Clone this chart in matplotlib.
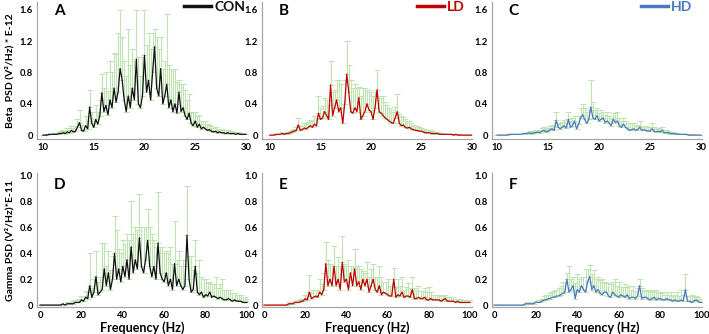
import numpy as np
import matplotlib
matplotlib.use('Agg')
import matplotlib.pyplot as plt

plt.rcParams['font.family'] = ['Lato', 'DejaVu Sans']

# frequency bins
beta_freq = np.linspace(10, 30, 101)
gamma_freq = np.linspace(0, 100, 101)

# Beta band, mean PSD (E-12) and upper error
con_beta = [0.00, 0.00, 0.00, 0.01, 0.01, 0.01, 0.01, 0.01, 0.02, 0.02,
            0.03, 0.02, 0.04, 0.03, 0.06, 0.04, 0.05, 0.10, 0.16, 0.06,
            0.05, 0.12, 0.08, 0.36, 0.15, 0.10, 0.20, 0.14, 0.25, 0.54,
            0.30, 0.38, 0.26, 0.45, 0.35, 0.60, 0.42, 0.55, 0.85, 0.70,
            0.45, 0.30, 0.50, 0.35, 0.60, 0.45, 0.97, 0.40, 0.35, 0.50,
            1.02, 0.55, 0.70, 0.45, 0.80, 1.13, 0.60, 0.50, 0.85, 0.40,
            0.50, 0.65, 0.35, 0.45, 0.30, 0.40, 0.28, 0.55, 0.30, 0.35,
            0.25, 0.20, 0.28, 0.15, 0.12, 0.18, 0.10, 0.14, 0.08, 0.10,
            0.08, 0.06, 0.07, 0.05, 0.04, 0.05, 0.03, 0.04, 0.03, 0.03,
            0.02, 0.03, 0.02, 0.02, 0.02, 0.01, 0.02, 0.01, 0.01, 0.01, 0.01]
con_beta_err = [0.00, 0.00, 0.01, 0.01, 0.01, 0.01, 0.02, 0.02, 0.02, 0.03,
                0.04, 0.03, 0.05, 0.04, 0.06, 0.05, 0.06, 0.10, 0.16, 0.07,
                0.06, 0.12, 0.10, 0.22, 0.14, 0.10, 0.18, 0.16, 0.20, 0.24,
                0.30, 0.42, 0.30, 0.50, 0.45, 0.45, 0.62, 0.75, 0.75, 0.55,
                0.50, 0.45, 0.85, 0.55, 0.50, 0.50, 0.63, 0.60, 0.40, 0.50,
                0.58, 0.60, 0.60, 0.65, 0.50, 0.22, 0.65, 0.60, 0.40, 0.45,
                0.45, 0.90, 0.55, 0.40, 0.55, 0.45, 0.40, 0.15, 0.35, 0.30,
                0.33, 0.25, 0.25, 0.15, 0.18, 0.12, 0.14, 0.12, 0.10, 0.08,
                0.10, 0.08, 0.06, 0.06, 0.05, 0.05, 0.04, 0.04, 0.05, 0.04,
                0.04, 0.03, 0.03, 0.03, 0.02, 0.02, 0.02, 0.02, 0.01, 0.01, 0.01]

ld_beta = [0.00, 0.00, 0.00, 0.01, 0.01, 0.01, 0.02, 0.01, 0.02, 0.02,
           0.03, 0.04, 0.05, 0.06, 0.13, 0.06, 0.07, 0.09, 0.08, 0.10,
           0.12, 0.10, 0.14, 0.12, 0.28, 0.20, 0.22, 0.30, 0.25, 0.20,
           0.64, 0.25, 0.35, 0.45, 0.30, 0.35, 0.15, 0.40, 0.78, 0.55,
           0.30, 0.28, 0.35, 0.30, 0.48, 0.20, 0.25, 0.30, 0.40, 0.32,
           0.30, 0.20, 0.35, 0.58, 0.30, 0.28, 0.25, 0.22, 0.20, 0.18,
           0.16, 0.15, 0.22, 0.30, 0.15, 0.12, 0.13, 0.10, 0.09, 0.10,
           0.08, 0.07, 0.06, 0.06, 0.05, 0.05, 0.04, 0.03, 0.03, 0.03,
           0.02, 0.02, 0.02, 0.02, 0.01, 0.01, 0.01, 0.01, 0.01, 0.01,
           0.01, 0.00, 0.01, 0.00, 0.00, 0.00, 0.00, 0.00, 0.00, 0.00, 0.00]
ld_beta_err = [0.00, 0.00, 0.00, 0.01, 0.01, 0.01, 0.02, 0.02, 0.02, 0.02,
               0.02, 0.03, 0.03, 0.04, 0.09, 0.05, 0.05, 0.06, 0.06, 0.07,
               0.07, 0.08, 0.10, 0.10, 0.22, 0.15, 0.15, 0.18, 0.20, 0.18,
               0.31, 0.30, 0.22, 0.25, 0.40, 0.30, 0.25, 0.30, 0.42, 0.35,
               0.40, 0.32, 0.30, 0.30, 0.14, 0.30, 0.35, 0.30, 0.18, 0.25,
               0.25, 0.30, 0.20, 0.25, 0.20, 0.20, 0.25, 0.20, 0.18, 0.16,
               0.16, 0.14, 0.14, 0.22, 0.12, 0.12, 0.10, 0.10, 0.09, 0.08,
               0.08, 0.06, 0.06, 0.05, 0.05, 0.04, 0.04, 0.04, 0.03, 0.03,
               0.03, 0.02, 0.02, 0.02, 0.02, 0.02, 0.01, 0.01, 0.01, 0.01,
               0.01, 0.01, 0.01, 0.01, 0.00, 0.00, 0.00, 0.00, 0.00, 0.00, 0.00]

hd_beta = [0.00, 0.00, 0.00, 0.00, 0.00, 0.00, 0.01, 0.01, 0.01, 0.01,
           0.01, 0.01, 0.01, 0.02, 0.02, 0.02, 0.03, 0.02, 0.03, 0.03,
           0.04, 0.03, 0.05, 0.06, 0.04, 0.05, 0.07, 0.08, 0.06, 0.19,
           0.10, 0.08, 0.10, 0.12, 0.09, 0.20, 0.10, 0.12, 0.18, 0.08,
           0.14, 0.22, 0.26, 0.20, 0.15, 0.20, 0.36, 0.22, 0.20, 0.25,
           0.18, 0.20, 0.22, 0.16, 0.18, 0.15, 0.12, 0.20, 0.16, 0.18,
           0.12, 0.10, 0.14, 0.10, 0.08, 0.06, 0.07, 0.08, 0.06, 0.07,
           0.10, 0.06, 0.07, 0.06, 0.05, 0.05, 0.08, 0.05, 0.04, 0.05,
           0.04, 0.06, 0.03, 0.03, 0.03, 0.02, 0.02, 0.02, 0.01, 0.01,
           0.01, 0.01, 0.01, 0.01, 0.00, 0.00, 0.00, 0.00, 0.00, 0.00, 0.00]
hd_beta_err = [0.00, 0.00, 0.00, 0.00, 0.00, 0.00, 0.00, 0.00, 0.00, 0.01,
               0.01, 0.01, 0.01, 0.01, 0.01, 0.02, 0.02, 0.02, 0.02, 0.03,
               0.03, 0.03, 0.04, 0.04, 0.04, 0.04, 0.05, 0.05, 0.05, 0.11,
               0.06, 0.06, 0.07, 0.07, 0.07, 0.10, 0.08, 0.10, 0.07, 0.08,
               0.10, 0.13, 0.14, 0.15, 0.15, 0.12, 0.34, 0.20, 0.12, 0.10,
               0.10, 0.12, 0.08, 0.10, 0.12, 0.10, 0.10, 0.08, 0.12, 0.12,
               0.10, 0.08, 0.08, 0.08, 0.07, 0.10, 0.08, 0.07, 0.06, 0.06,
               0.08, 0.06, 0.05, 0.05, 0.05, 0.05, 0.07, 0.05, 0.04, 0.04,
               0.04, 0.04, 0.03, 0.03, 0.02, 0.02, 0.02, 0.02, 0.02, 0.01,
               0.01, 0.01, 0.01, 0.01, 0.01, 0.01, 0.00, 0.00, 0.00, 0.00, 0.00]

# Gamma band, mean PSD (E-11) and upper error
con_gamma = [0.00, 0.00, 0.00, 0.00, 0.00, 0.00, 0.00, 0.00, 0.00, 0.00,
             0.00, 0.01, 0.00, 0.01, 0.01, 0.01, 0.01, 0.02, 0.02, 0.02,
             0.04, 0.03, 0.06, 0.05, 0.15, 0.06, 0.10, 0.22, 0.08, 0.10,
             0.12, 0.28, 0.15, 0.25, 0.12, 0.20, 0.40, 0.20, 0.28, 0.18,
             0.30, 0.22, 0.35, 0.20, 0.45, 0.25, 0.35, 0.28, 0.52, 0.30,
             0.25, 0.35, 0.50, 0.30, 0.22, 0.30, 0.20, 0.48, 0.25, 0.20,
             0.18, 0.25, 0.15, 0.20, 0.12, 0.32, 0.15, 0.20, 0.15, 0.12,
             0.15, 0.54, 0.20, 0.10, 0.12, 0.30, 0.10, 0.08, 0.10, 0.06,
             0.08, 0.07, 0.10, 0.06, 0.07, 0.06, 0.05, 0.06, 0.05, 0.04,
             0.04, 0.05, 0.04, 0.03, 0.04, 0.03, 0.03, 0.03, 0.02, 0.02, 0.02]
con_gamma_err = [0.00, 0.00, 0.00, 0.00, 0.00, 0.00, 0.00, 0.00, 0.00, 0.00,
                 0.00, 0.00, 0.01, 0.01, 0.01, 0.01, 0.02, 0.02, 0.02, 0.03,
                 0.03, 0.04, 0.05, 0.05, 0.25, 0.07, 0.10, 0.20, 0.10, 0.12,
                 0.36, 0.20, 0.15, 0.17, 0.15, 0.18, 0.29, 0.38, 0.15, 0.22,
                 0.20, 0.25, 0.20, 0.30, 0.35, 0.30, 0.25, 0.30, 0.34, 0.30,
                 0.35, 0.25, 0.24, 0.30, 0.33, 0.20, 0.25, 0.39, 0.20, 0.25,
                 0.22, 0.17, 0.25, 0.25, 0.20, 0.33, 0.20, 0.22, 0.15, 0.23,
                 0.15, 0.38, 0.18, 0.28, 0.15, 0.20, 0.15, 0.27, 0.12, 0.14,
                 0.12, 0.10, 0.08, 0.10, 0.09, 0.16, 0.08, 0.10, 0.15, 0.08,
                 0.08, 0.07, 0.08, 0.06, 0.05, 0.05, 0.05, 0.05, 0.04, 0.04, 0.03]

ld_gamma = [0.00, 0.00, 0.00, 0.00, 0.00, 0.00, 0.00, 0.00, 0.00, 0.00,
            0.00, 0.00, 0.01, 0.01, 0.01, 0.02, 0.02, 0.02, 0.03, 0.03,
            0.05, 0.04, 0.10, 0.05, 0.06, 0.07, 0.06, 0.10, 0.08, 0.12,
            0.32, 0.15, 0.20, 0.15, 0.30, 0.15, 0.20, 0.12, 0.33, 0.18,
            0.20, 0.12, 0.25, 0.15, 0.28, 0.15, 0.18, 0.12, 0.20, 0.15,
            0.20, 0.10, 0.15, 0.20, 0.12, 0.10, 0.15, 0.08, 0.10, 0.09,
            0.08, 0.07, 0.07, 0.20, 0.06, 0.08, 0.07, 0.10, 0.06, 0.07,
            0.07, 0.06, 0.12, 0.05, 0.05, 0.06, 0.05, 0.05, 0.06, 0.04,
            0.04, 0.05, 0.04, 0.04, 0.04, 0.04, 0.03, 0.04, 0.05, 0.03,
            0.03, 0.03, 0.03, 0.02, 0.03, 0.02, 0.02, 0.02, 0.02, 0.02, 0.02]
ld_gamma_err = [0.00, 0.00, 0.00, 0.00, 0.00, 0.00, 0.00, 0.00, 0.00, 0.00,
                0.00, 0.00, 0.01, 0.01, 0.01, 0.01, 0.02, 0.02, 0.02, 0.02,
                0.03, 0.03, 0.13, 0.04, 0.06, 0.05, 0.06, 0.10, 0.08, 0.13,
                0.17, 0.20, 0.12, 0.15, 0.16, 0.15, 0.17, 0.18, 0.20, 0.14,
                0.10, 0.23, 0.05, 0.15, 0.15, 0.15, 0.12, 0.16, 0.06, 0.10,
                0.13, 0.12, 0.13, 0.12, 0.10, 0.12, 0.15, 0.14, 0.08, 0.09,
                0.12, 0.08, 0.08, 0.09, 0.08, 0.12, 0.08, 0.12, 0.06, 0.07,
                0.10, 0.07, 0.10, 0.08, 0.07, 0.09, 0.06, 0.06, 0.07, 0.06,
                0.10, 0.05, 0.04, 0.04, 0.04, 0.04, 0.04, 0.03, 0.03, 0.03,
                0.03, 0.03, 0.03, 0.03, 0.02, 0.03, 0.02, 0.02, 0.02, 0.02, 0.02]

hd_gamma = [0.00, 0.00, 0.00, 0.00, 0.00, 0.00, 0.00, 0.00, 0.00, 0.00,
            0.00, 0.00, 0.00, 0.00, 0.00, 0.01, 0.01, 0.01, 0.01, 0.01,
            0.02, 0.02, 0.02, 0.03, 0.04, 0.04, 0.05, 0.05, 0.06, 0.06,
            0.07, 0.07, 0.08, 0.09, 0.10, 0.20, 0.10, 0.12, 0.15, 0.05,
            0.12, 0.10, 0.15, 0.12, 0.10, 0.18, 0.22, 0.12, 0.15, 0.10,
            0.12, 0.09, 0.08, 0.10, 0.10, 0.07, 0.06, 0.10, 0.08, 0.07,
            0.06, 0.08, 0.07, 0.06, 0.08, 0.05, 0.06, 0.06, 0.05, 0.07,
            0.15, 0.05, 0.06, 0.06, 0.05, 0.04, 0.05, 0.06, 0.04, 0.05,
            0.05, 0.04, 0.04, 0.05, 0.04, 0.04, 0.03, 0.04, 0.03, 0.03,
            0.04, 0.03, 0.12, 0.03, 0.03, 0.02, 0.03, 0.04, 0.03, 0.02, 0.02]
hd_gamma_err = [0.00, 0.00, 0.00, 0.00, 0.00, 0.00, 0.00, 0.00, 0.00, 0.00,
                0.00, 0.00, 0.00, 0.00, 0.00, 0.00, 0.01, 0.01, 0.01, 0.01,
                0.01, 0.02, 0.02, 0.02, 0.03, 0.04, 0.03, 0.04, 0.04, 0.05,
                0.05, 0.06, 0.07, 0.09, 0.08, 0.05, 0.20, 0.08, 0.07, 0.12,
                0.12, 0.10, 0.07, 0.10, 0.18, 0.10, 0.09, 0.12, 0.12, 0.10,
                0.10, 0.10, 0.12, 0.08, 0.07, 0.10, 0.10, 0.08, 0.12, 0.08,
                0.12, 0.06, 0.07, 0.10, 0.06, 0.10, 0.06, 0.09, 0.06, 0.06,
                0.05, 0.08, 0.06, 0.05, 0.06, 0.08, 0.05, 0.05, 0.08, 0.04,
                0.05, 0.05, 0.04, 0.05, 0.04, 0.06, 0.04, 0.04, 0.07, 0.04,
                0.08, 0.05, 0.12, 0.04, 0.04, 0.06, 0.03, 0.03, 0.03, 0.03, 0.03]

groups = ['CON', 'LD', 'HD']
colors = ['#111111', '#c00000', '#4a78c2']
letters = ['A', 'B', 'C', 'D', 'E', 'F']
beta_ticks = [10, 15, 20, 25, 30]
beta_yticks = [0, 0.4, 0.8, 1.2, 1.6]
beta_yticklabels = ['0', '0.4', '0.8', '1.2', '1.6']
gamma_ticks = [0, 20, 40, 60, 80, 100]
gamma_yticks = [0, 0.2, 0.4, 0.6, 0.8, 1.0]
gamma_yticklabels = ['0', '0.2', '0.4', '0.6', '0.8', '1.0']

W, H = 709, 334
fig = plt.figure(figsize=(W / 100, H / 100), dpi=100)

# axes boxes in pixels: (left, right)
cols_px = [(37, 248), (262, 472), (492, 702)]
top_row = (2, 139)
bot_row = (173, 307)
beta_xlim = [(9.41, 30.2), (9.21, 30.0), (9.51, 30.1)]
gamma_xlim = [(-1.5, 100.5), (-1.0, 101.0), (-1.0, 100.0)]
legend_x = [0.986, 0.967, 0.955]

def make_ax(lr, tb):
    l, r = lr
    t, b = tb
    return fig.add_axes([l / W, 1 - b / H, (r - l) / W, (b - t) / H])

def style(ax):
    for s in ['top', 'right']:
        ax.spines[s].set_visible(False)
    for s in ['left', 'bottom']:
        ax.spines[s].set_color('#a6a6a6')
        ax.spines[s].set_linewidth(0.9)
    ax.tick_params(length=0, pad=3, labelsize=6.8)
    for lab in ax.get_xticklabels() + ax.get_yticklabels():
        lab.set_fontweight('bold')

beta_sets = [(con_beta, con_beta_err), (ld_beta, ld_beta_err), (hd_beta, hd_beta_err)]
gamma_sets = [(con_gamma, con_gamma_err), (ld_gamma, ld_gamma_err), (hd_gamma, hd_gamma_err)]

for i in range(3):
    # beta row
    ax = make_ax(cols_px[i], top_row)
    m, e = beta_sets[i]
    ax.errorbar(beta_freq, m, yerr=[np.zeros(len(e)), e], fmt='none',
                ecolor='#bfe3b1', elinewidth=0.8, capsize=2, capthick=0.7, zorder=1)
    ax.plot(beta_freq, m, color=colors[i], lw=0.9, zorder=2, label=groups[i])
    ax.set_xlim(*beta_xlim[i])
    ax.set_ylim(-0.05, 1.70)
    ax.set_xticks(beta_ticks)
    ax.set_xticklabels([str(t) for t in beta_ticks])
    ax.set_yticks(beta_yticks)
    ax.set_yticklabels(beta_yticklabels)
    style(ax)
    ax.text(0.08, 0.985, letters[i], transform=ax.transAxes, fontsize=11,
            fontweight='bold', va='top', ha='left')
    leg = ax.legend(loc='upper right', bbox_to_anchor=(legend_x[i], 1.01),
                    frameon=False, handlelength=1.9, handletextpad=0.25,
                    borderaxespad=0, borderpad=0,
                    prop={'weight': 'bold', 'size': 10}, labelcolor='linecolor')
    for h in leg.get_lines():
        h.set_linewidth(2.5)
    if i == 0:
        ax.set_ylabel('Beta  PSD (V\u00b2/Hz) * E-12', fontsize=7.5, fontweight='bold', labelpad=4)

    # gamma row
    ax = make_ax(cols_px[i], bot_row)
    m, e = gamma_sets[i]
    ax.errorbar(gamma_freq, m, yerr=[np.zeros(len(e)), e], fmt='none',
                ecolor='#bfe3b1', elinewidth=0.8, capsize=2, capthick=0.7, zorder=1)
    ax.plot(gamma_freq, m, color=colors[i], lw=0.9, zorder=2)
    ax.set_xlim(*gamma_xlim[i])
    ax.set_ylim(-0.015, 1.02)
    ax.set_xticks(gamma_ticks)
    ax.set_xticklabels([str(t) for t in gamma_ticks])
    ax.set_yticks(gamma_yticks)
    ax.set_yticklabels(gamma_yticklabels)
    style(ax)
    ax.text(0.08, 0.96, letters[i + 3], transform=ax.transAxes, fontsize=11,
            fontweight='bold', va='top', ha='left')
    ax.set_xlabel('Frequency (Hz)', fontsize=9, fontweight='bold')
    ax.xaxis.set_label_coords(0.5, -0.105)
    if i == 0:
        ax.set_ylabel('Gamma PSD (V\u00b2/Hz)*E-11', fontsize=7.5, fontweight='bold', labelpad=4)

fig.savefig('out.png', dpi=100)
